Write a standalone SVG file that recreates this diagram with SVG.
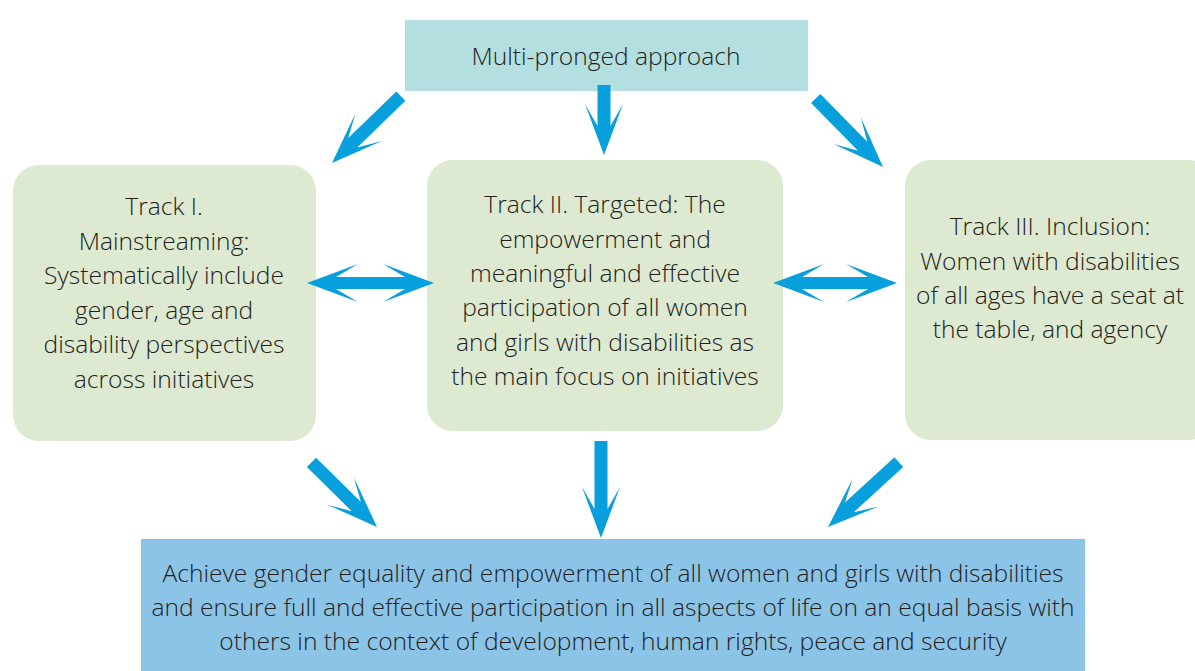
<svg xmlns="http://www.w3.org/2000/svg" width="1195" height="671" viewBox="0 0 1195 671">
<defs>
<style>
.t{font-family:"Open Sans","Noto Sans","Liberation Sans",sans-serif;font-size:24.6px;font-weight:300;fill:#231f20;text-anchor:middle}
.g{fill:#dde9d0}
.a{fill:#08a0dc}
</style>
</defs>
<rect width="1195" height="671" fill="#fff"/>
<g id="top">
<rect x="405" y="20" width="403" height="71" fill="#b4dfe0"/>
<text class="t" x="606" y="65">Multi-pronged approach</text>
</g>
<g id="track1">
<rect class="g" x="13" y="165" width="303" height="276" rx="26"/>
<text class="t" x="164"><tspan x="164" y="215">Track I.</tspan><tspan x="164" y="250">Mainstreaming:</tspan><tspan x="164" y="284">Systematically include</tspan><tspan x="164" y="319">gender, age and</tspan><tspan x="164" y="353">disability perspectives</tspan><tspan x="164" y="388">across initiatives</tspan></text>
</g>
<g id="track2">
<rect class="g" x="427" y="160" width="356" height="271" rx="26"/>
<text class="t" x="605"><tspan x="605" y="213">Track II. Targeted: The</tspan><tspan x="605" y="248">empowerment and</tspan><tspan x="605" y="282">meaningful and effective</tspan><tspan x="605" y="316">participation of all women</tspan><tspan x="605" y="351">and girls with disabilities as</tspan><tspan x="605" y="385">the main focus on initiatives</tspan></text>
</g>
<g id="track3">
<rect class="g" x="905" y="160" width="310" height="280" rx="26"/>
<text class="t" x="1050"><tspan x="1050" y="235">Track III. Inclusion:</tspan><tspan x="1050" y="270">Women with disabilities</tspan><tspan x="1050" y="304">of all ages have a seat at</tspan><tspan x="1050" y="338">the table, and agency</tspan></text>
</g>
<g id="goal">
<rect x="141" y="539" width="944" height="132" fill="#8cc4e8"/>
<text class="t" x="613"><tspan x="613" y="582">Achieve gender equality and empowerment of all women and girls with disabilities</tspan><tspan x="613" y="616">and ensure full and effective participation in all aspects of life on an equal basis with</tspan><tspan x="613" y="650">others in the context of development, human rights, peace and security</tspan></text>
</g>
<g id="connectors" class="a">
<path d="M0,0 L-51,-19 L-29,-6.5 L-96,-6.5 L-96,6.5 L-29,6.5 L-51,19 Z" transform="translate(332,163) rotate(135.8)"/>
<path d="M0,0 L-51,-19 L-29,-6.5 L-70,-6.5 L-70,6.5 L-29,6.5 L-51,19 Z" transform="translate(604,155) rotate(90)"/>
<path d="M0,0 L-51,-19 L-29,-6.5 L-96,-6.5 L-96,6.5 L-29,6.5 L-51,19 Z" transform="translate(883,167) rotate(45.5)"/>
<path d="M0,0 L-51,-19 L-29,-6 L-98,-6 L-76,-19 L-127,0 L-76,19 L-98,6 L-29,6 L-51,19 Z" transform="translate(434,283)"/>
<path d="M0,0 L-51,-19 L-29,-6 L-95,-6 L-73,-19 L-124,0 L-73,19 L-95,6 L-29,6 L-51,19 Z" transform="translate(897,283)"/>
<path d="M0,0 L-51,-19 L-29,-6.5 L-92,-6.5 L-92,6.5 L-29,6.5 L-51,19 Z" transform="translate(377,527) rotate(44.6)"/>
<path d="M0,0 L-51,-19 L-29,-6.5 L-97,-6.5 L-97,6.5 L-29,6.5 L-51,19 Z" transform="translate(601,538) rotate(90)"/>
<path d="M0,0 L-51,-19 L-29,-6.5 L-96,-6.5 L-96,6.5 L-29,6.5 L-51,19 Z" transform="translate(828,527) rotate(137.5)"/>
</g>
</svg>
